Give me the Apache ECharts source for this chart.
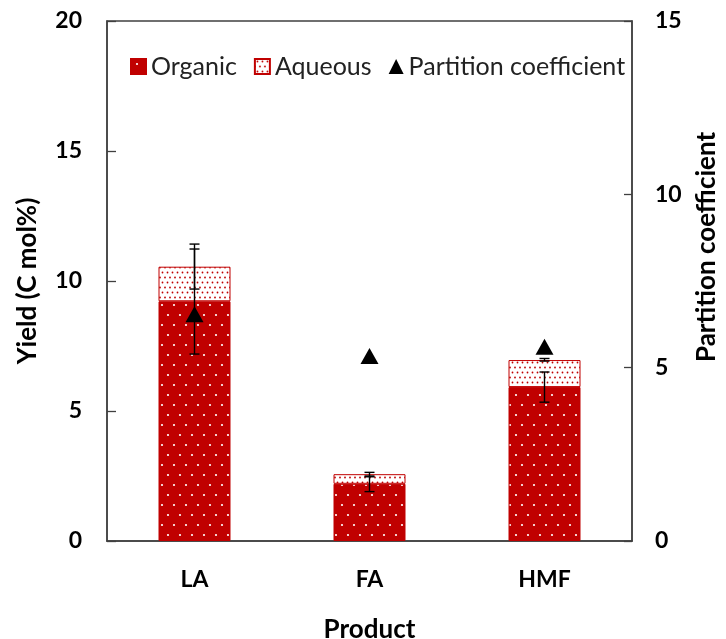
<!DOCTYPE html>
<html>
<head>
<meta charset="utf-8">
<script src="https://cdn.jsdelivr.net/npm/echarts@6/dist/echarts.min.js"></script>
<style>
html,body{margin:0;padding:0;background:#fff;}
#chart{width:726px;height:639px;}
</style>
</head>
<body>
<div id="chart"></div>
<script>
// ---- data ----
const categories = ['LA', 'FA', 'HMF'];
const organic = [9.22, 2.2, 5.92];
const aqueous = [1.33, 0.37, 1.04];
const organicErrLow = [7.19, 1.9, 5.34];
const organicErrHigh = [11.23, 2.47, 6.5];
const totalErrLow = [9.69, 2.5, 6.92];
const totalErrHigh = [11.42, 2.64, 7.02];
const partition = [6.54, 5.34, 5.6];
const leftTicks = [0, 5, 10, 15, 20];
const rightTicks = [0, 5, 10, 15];

const RED = '#C00000';

function makePattern(w, h, bg, dot, pts, r) {
  const c = document.createElement('canvas');
  c.width = w; c.height = h;
  const ctx = c.getContext('2d');
  ctx.fillStyle = bg; ctx.fillRect(0, 0, w, h);
  ctx.fillStyle = dot;
  pts.forEach(p => { ctx.beginPath(); ctx.arc(p[0], p[1], r, 0, Math.PI * 2); ctx.fill(); });
  return { image: c, repeat: 'repeat' };
}
const organicPattern = makePattern(24, 20, RED, '#ffffff',
  [[6, 5], [18, 5], [0, 15], [12, 15], [24, 15]], 1.1);
const aqueousPattern = makePattern(10, 10, '#ffffff', RED,
  [[2.5, 2.5], [7.5, 2.5], [0, 7.5], [5, 7.5], [10, 7.5]], 0.9);

const organicErr = categories.map((c, i) => [i, organicErrLow[i], organicErrHigh[i]]);
const totalErr = categories.map((c, i) => [i, totalErrLow[i], totalErrHigh[i]]);

function errRender(params, api) {
  const x = api.value(0);
  const lo = api.coord([x, api.value(1)]);
  const hi = api.coord([x, api.value(2)]);
  const hw = 5;
  const st = { stroke: '#000', lineWidth: 1.4 };
  return {
    type: 'group',
    children: [
      { type: 'line', shape: { x1: lo[0], y1: lo[1], x2: hi[0], y2: hi[1] }, style: st },
      { type: 'line', shape: { x1: lo[0] - hw, y1: lo[1], x2: lo[0] + hw, y2: lo[1] }, style: st },
      { type: 'line', shape: { x1: hi[0] - hw, y1: hi[1], x2: hi[0] + hw, y2: hi[1] }, style: st }
    ]
  };
}

const FONT = 'Lato';
const chart = echarts.init(document.getElementById('chart'));
chart.setOption({
  animation: false,
  backgroundColor: '#fff',
  grid: { left: 107, right: 94, top: 21, bottom: 98, show: true, borderColor: '#404040', borderWidth: 1.5,
    containLabel: false, outerBoundsMode: 'none' },
  legend: {
    left: 125, top: 49,
    itemWidth: 15, itemHeight: 15, itemGap: 17,
    textStyle: { fontFamily: FONT, fontSize: 25, color: '#222' },
    data: [
      { name: 'Organic', icon: 'rect' },
      { name: 'Aqueous', icon: 'rect' },
      { name: 'Partition coefficient', icon: 'triangle' }
    ]
  },
  xAxis: {
    type: 'category',
    data: categories,
    axisTick: { show: false },
    axisLine: { lineStyle: { color: '#404040', width: 1.5 } },
    axisLabel: { margin: 27, fontFamily: FONT, fontWeight: 'bold', fontSize: 23, color: '#000' },
    name: 'Product',
    nameLocation: 'middle',
    nameGap: 76,
    nameTextStyle: { fontFamily: FONT, fontWeight: 'bold', fontSize: 26, color: '#000' }
  },
  yAxis: [
    {
      type: 'value', min: 0, max: 20, interval: 5,
      splitLine: { show: false },
      axisLine: { show: true, lineStyle: { color: '#404040', width: 1.5 } },
      axisTick: { show: true, inside: true, length: 9, lineStyle: { color: '#404040', width: 1.3 } },
      axisLabel: { margin: 25, fontFamily: FONT, fontWeight: 'bold', fontSize: 23, color: '#000',
        formatter: v => leftTicks.includes(v) ? String(v) : '' },
      name: 'Yield (C mol%)',
      nameLocation: 'middle',
      nameGap: 66,
      nameRotate: 90,
      nameTextStyle: { fontFamily: FONT, fontWeight: 'bold', fontSize: 26, color: '#000' }
    },
    {
      type: 'value', min: 0, max: 15, interval: 5, position: 'right',
      splitLine: { show: false },
      axisLine: { show: true, lineStyle: { color: '#404040', width: 1.5 } },
      axisTick: { show: true, inside: true, length: 8, lineStyle: { color: '#404040', width: 1.3 } },
      axisLabel: { margin: 23, fontFamily: FONT, fontWeight: 'bold', fontSize: 23, color: '#000',
        formatter: v => rightTicks.includes(v) ? String(v) : '' }
    }
  ],
  graphic: [
    {
      type: 'text', x: 707, y: 247, rotation: Math.PI / 2,
      style: { text: 'Partition coefficient', fontFamily: FONT, fontWeight: 'bold', fontSize: 26,
        fill: '#000', align: 'center', verticalAlign: 'middle' }
    }
  ],
  series: [
    {
      name: 'Organic', type: 'bar', stack: 'y', barWidth: 72, data: organic,
      itemStyle: { color: organicPattern, borderColor: RED, borderWidth: 1 }
    },
    {
      name: 'Aqueous', type: 'bar', stack: 'y', barWidth: 72, data: aqueous,
      itemStyle: { color: aqueousPattern, borderColor: RED, borderWidth: 1 }
    },
    {
      name: 'errOrganic', type: 'custom', renderItem: errRender, data: organicErr,
      encode: { x: 0, y: [1, 2] }, z: 5, silent: true
    },
    {
      name: 'errTotal', type: 'custom', renderItem: errRender, data: totalErr,
      encode: { x: 0, y: [1, 2] }, z: 5, silent: true
    },
    {
      name: 'Partition coefficient', type: 'scatter', yAxisIndex: 1, data: partition,
      symbol: 'triangle', symbolSize: [18, 16], z: 10,
      itemStyle: { color: '#000', opacity: 1 }
    }
  ]
});
</script>
</body>
</html>
